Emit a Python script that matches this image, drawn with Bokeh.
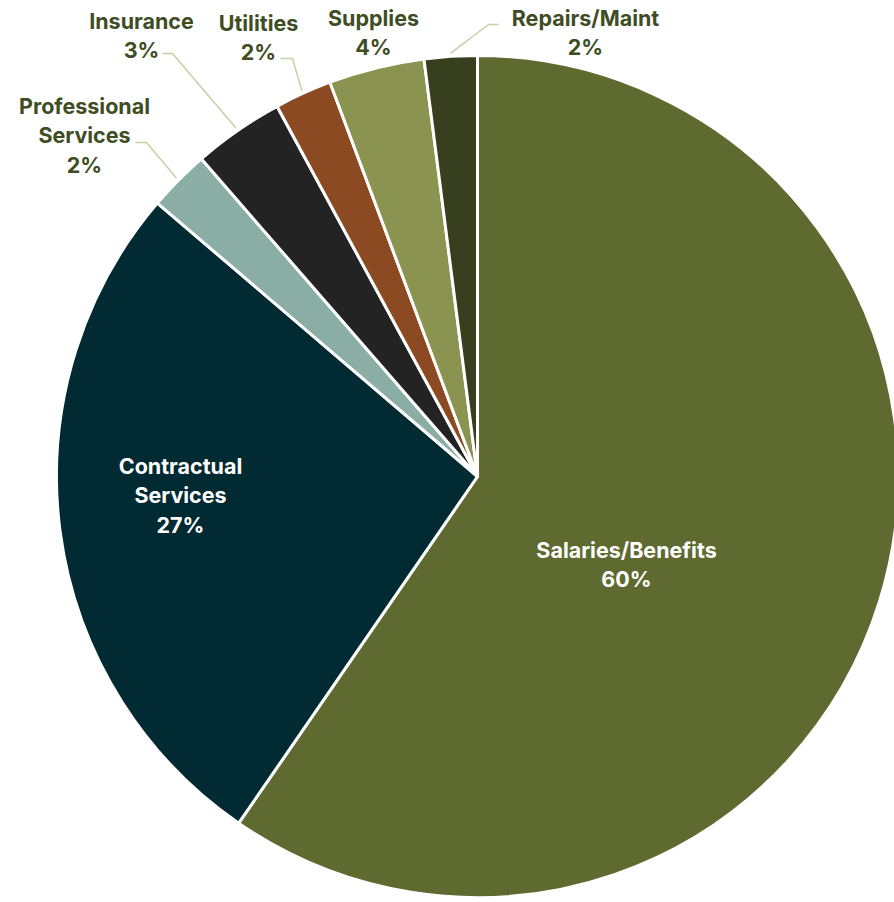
import math
from bokeh.plotting import figure
from bokeh.models import Range1d, ColumnDataSource
from bokeh.core.properties import value
from bokeh.embed import file_html
from bokeh.resources import INLINE

# ---- data ----
categories = ["Salaries/Benefits", "Contractual Services", "Professional Services",
              "Insurance", "Utilities", "Supplies", "Repairs/Maint"]
shares = [59.6, 26.65, 2.36, 3.49, 2.2, 3.67, 2.03]
colors = ["#5E6A30", "#012A32", "#8AADA6", "#232323", "#8C4A22", "#8A9350", "#373F1E"]

# ---- layout (pixel positions, y measured from top) ----
W, H = 894, 902
CX, CY, R = 477, 476, 421
label_layout = {
    "Salaries/Benefits":     dict(x=626, y=549, wrap=False, inside=True),
    "Contractual Services":  dict(x=180, y=465, wrap=True, inside=True),
    "Professional Services": dict(x=84, y=105, wrap=True, inside=False),
    "Insurance":             dict(x=141, y=20, wrap=False, inside=False),
    "Utilities":             dict(x=258, y=22, wrap=False, inside=False),
    "Supplies":              dict(x=373, y=17, wrap=False, inside=False),
    "Repairs/Maint":         dict(x=585, y=17, wrap=False, inside=False),
}
# leader lines: start point and elbow (pixels); end computed at slice mid-angle
leaders = {
    "Professional Services": [(135, 142), (146, 142)],
    "Insurance": [(162, 53), (172, 53)],
    "Utilities": [(280, 58), (292, 58)],
    "Repairs/Maint": [(498, 24), (488, 24)],
}
LINE_GAP = 29.5
FONT = "Inter"
FONT_SIZE = "21.5px"
OUT_COLOR = "#3F4D24"
LEADER_COLOR = "#C3D1A5"


def Y(py):
    return H - py


p = figure(width=W, height=H, output_backend="svg", toolbar_location=None,
           x_range=Range1d(0, W), y_range=Range1d(0, H), min_border=0)
p.axis.visible = False
p.grid.visible = False
p.outline_line_color = None
p.background_fill_color = "white"
p.border_fill_color = "white"

total = sum(shares)
starts, ends, mids = [], [], []
cum = 0.0
for s in shares:
    a0 = math.pi / 2 - 2 * math.pi * cum / total
    cum += s
    a1 = math.pi / 2 - 2 * math.pi * cum / total
    starts.append(a0)
    ends.append(a1)
    mids.append((a0 + a1) / 2)

src = ColumnDataSource(dict(start=starts, end=ends, color=colors, cat=categories))
p.wedge(x=CX, y=Y(CY), radius=R, start_angle="start", end_angle="end",
        direction="clock", fill_color="color", line_color="white", line_width=3,
        source=src)

# leader lines
for cat, pts in leaders.items():
    i = categories.index(cat)
    ex = CX + 424 * math.cos(mids[i])
    ey = Y(CY) + 424 * math.sin(mids[i])
    xs = [pts[0][0], pts[1][0], ex]
    ys = [Y(pts[0][1]), Y(pts[1][1]), ey]
    p.line(xs, ys, line_color=LEADER_COLOR, line_width=1.5)

# labels
tx, ty, tt, tc = [], [], [], []
for cat, s in zip(categories, shares):
    lay = label_layout[cat]
    lines = cat.split(" ") if lay["wrap"] else [cat]
    lines = lines + [f"{round(s)}%"]
    for k, ln in enumerate(lines):
        tx.append(lay["x"])
        ty.append(Y(lay["y"] + k * LINE_GAP))
        tt.append(ln)
        tc.append("white" if lay["inside"] else OUT_COLOR)

tsrc = ColumnDataSource(dict(x=tx, y=ty, text=tt, color=tc))
p.text(x="x", y="y", text="text", text_color="color", source=tsrc,
       text_align="center", text_baseline="middle",
       text_font=value(FONT), text_font_style="bold", text_font_size=FONT_SIZE)

open("out.html", "w").write(file_html(p, INLINE))
